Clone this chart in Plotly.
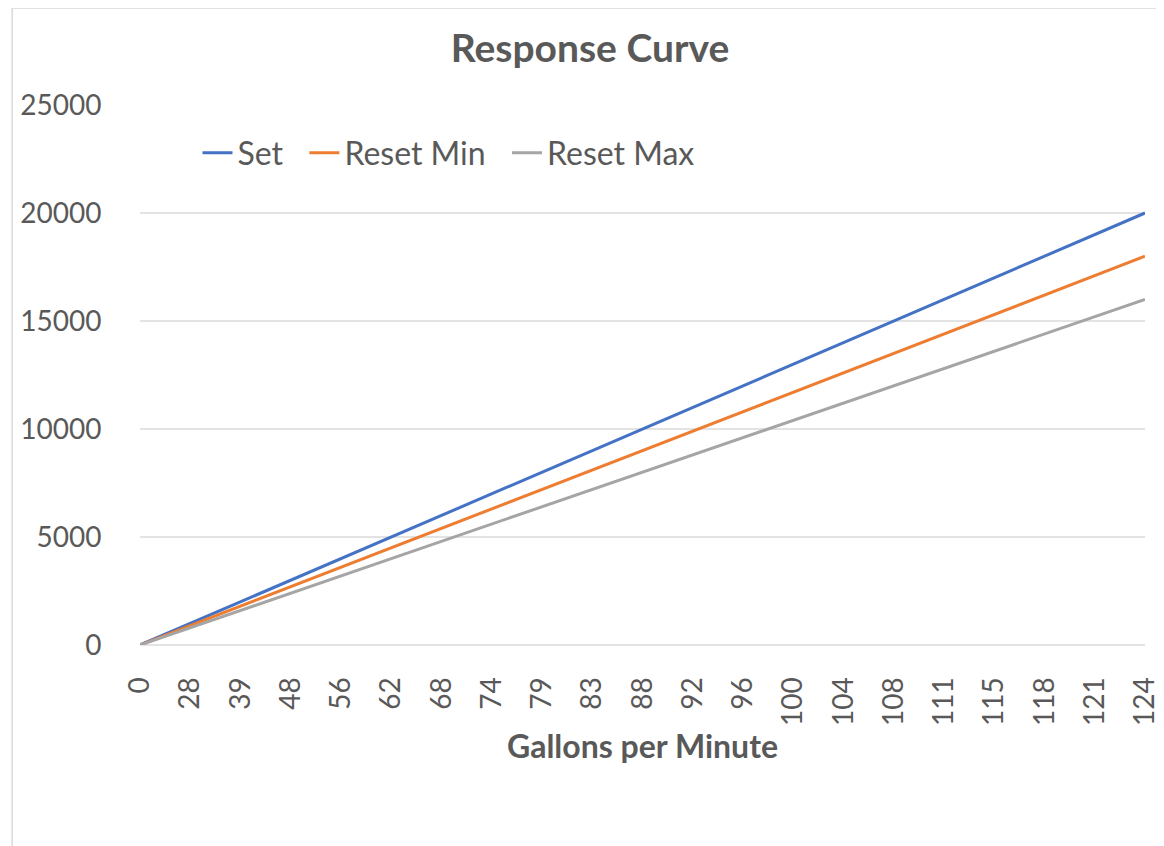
import plotly.graph_objects as go

gpm_labels = ["0", "28", "39", "48", "56", "62", "68", "74", "79", "83", "88",
              "92", "96", "100", "104", "108", "111", "115", "118", "121", "124"]
set_vals = [0, 1000, 2000, 3000, 4000, 5000, 6000, 7000, 8000, 9000, 10000,
            11000, 12000, 13000, 14000, 15000, 16000, 17000, 18000, 19000, 20000]
reset_min_vals = [0, 900, 1800, 2700, 3600, 4500, 5400, 6300, 7200, 8100, 9000,
                  9900, 10800, 11700, 12600, 13500, 14400, 15300, 16200, 17100, 18000]
reset_max_vals = [0, 800, 1600, 2400, 3200, 4000, 4800, 5600, 6400, 7200, 8000,
                  8800, 9600, 10400, 11200, 12000, 12800, 13600, 14400, 15200, 16000]

FONT = "Lato"
GREY = "#595959"
NB = "\u00a0"

fig = go.Figure()
for name, vals, col in [("Set" + NB * 2, set_vals, "#4472C4"),
                        ("Reset Min" + NB * 2, reset_min_vals, "#ED7D31"),
                        ("Reset Max", reset_max_vals, "#A5A5A5")]:
    fig.add_trace(go.Scatter(x=list(range(len(gpm_labels))), y=vals, mode="lines",
                             name=name, line=dict(color=col, width=3)))

W, H = 1164, 846
OFF = 8  # page body offset
L, R, T, B = 130, 20, 97, 209
pw, ph = W - L - R, H - T - B

def px_x(x):  # screenshot x -> paper
    return (x - OFF - L) / pw

def px_y(y):  # screenshot y -> paper
    return (H - B - (y - OFF)) / ph

fig.update_layout(
    width=W, height=H,
    margin=dict(l=L, r=R, t=T, b=B, pad=0),
    paper_bgcolor="white", plot_bgcolor="white",
    font=dict(family=FONT, color=GREY),
    title=dict(text="<b>Response Curve</b>", x=(590 - OFF) / W, xanchor="center",
               y=1 - (48 - OFF) / H, yanchor="middle",
               font=dict(size=39, family=FONT, color=GREY)),
    showlegend=True,
    legend=dict(orientation="h", x=px_x(196), xanchor="left",
                y=px_y(153), yanchor="middle",
                font=dict(size=32, family=FONT, color=GREY),
                bgcolor="rgba(0,0,0,0)", itemwidth=30, tracegroupgap=0),
    xaxis=dict(
        tickmode="array", tickvals=list(range(len(gpm_labels))), ticktext=gpm_labels,
        range=[0, len(gpm_labels) - 1], tickangle=-90,
        tickfont=dict(size=28, family=FONT, color=GREY),
        showgrid=False, zeroline=False, showline=False,
        ticks="outside", ticklen=20, tickcolor="rgba(0,0,0,0)",
        title=dict(text="<b>Gallons per Minute</b>", standoff=8,
                   font=dict(size=32, family=FONT, color=GREY)),
    ),
    yaxis=dict(
        range=[0, 25000], tickmode="array", tickvals=[0, 5000, 10000, 15000, 20000, 25000],
        ticktext=["0", "5000", "10000", "15000", "20000", "25000"],
        tickfont=dict(size=28, family=FONT, color=GREY),
        showgrid=True, gridcolor="#E3E3E3", gridwidth=1.5,
        zeroline=True, zerolinecolor="#E3E3E3", zerolinewidth=1.5,
        showline=False, ticks="outside", ticklen=32, tickcolor="rgba(0,0,0,0)",
    ),
)

# outer chart frame (left and top edges visible in reference)
fig.add_shape(type="line", xref="paper", yref="paper",
              x0=px_x(9), x1=px_x(9), y0=px_y(860), y1=px_y(8),
              line=dict(color="#D9D9D9", width=1.5))
fig.add_shape(type="line", xref="paper", yref="paper",
              x0=px_x(9), x1=px_x(1180), y0=px_y(8), y1=px_y(8),
              line=dict(color="#D9D9D9", width=1.5))

fig.write_html("out.html")
